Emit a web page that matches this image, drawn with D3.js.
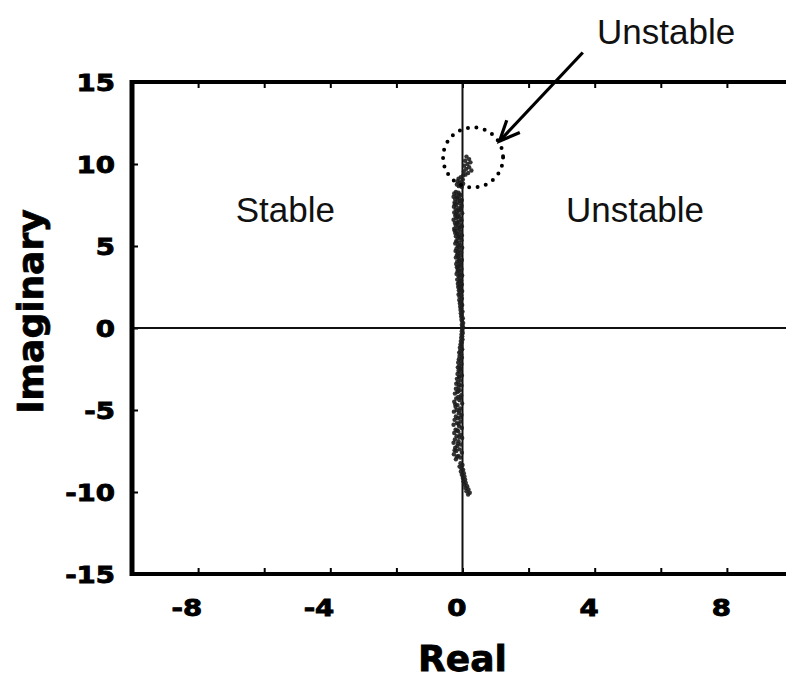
<!DOCTYPE html>
<html>
<head>
<meta charset="utf-8">
<script src="https://cdn.jsdelivr.net/npm/d3@7/dist/d3.min.js"></script>
<style>
  html, body { margin: 0; padding: 0; background: #fff; }
  svg { display: block; }
</style>
</head>
<body>
<svg id="chart" width="786" height="693"></svg>
<script>
// Root-locus style scatter of closed-loop poles in the complex plane.

// Axis ticks
const xTicks = [-8, -6, -4, -2, 0, 2, 4, 6, 8];
const xTickLabels = [-8, -4, 0, 4, 8];
const yTicks = [-10, -5, 0, 5, 10];
const yTickLabels = [15, 10, 5, 0, -5, -10, -15];

// Poles near the top of the locus, crossing into the right half-plane
const polesTop = [
  [0.12,10.45],[0.20,10.3],[0.08,10.2],[0.24,10.1],[0.15,10.0],[0.05,9.9],[0.20,9.8],
  [0.11,9.7],[0.27,9.6],[0.04,9.55],[0.17,9.45],[0.09,9.35],[0.02,9.3],
  [-0.05,9.2],[-0.12,9.1],[0.01,9.05],[-0.15,8.95],[-0.04,8.9],[-0.09,8.85],
  [0.02,8.8],[-0.17,8.75],[-0.06,8.7],[-0.11,8.65],[-0.02,8.6]
];

// Poles along the upper branch, left of the imaginary axis
const polesUpper = [
  [-0.20,8.3],[-0.12,8.25],[-0.25,8.2],[-0.09,8.15],[-0.05,8.1],[-0.18,8.05],[-0.27,8.0],
  [-0.16,7.95],[-0.10,7.9],[-0.22,7.85],[-0.02,7.8],[-0.07,7.75],[-0.15,7.7],[-0.24,7.65],
  [-0.08,7.6],[-0.23,7.55],[-0.19,7.5],[-0.03,7.45],[-0.26,7.4],[-0.04,7.35],[-0.12,7.3],
  [-0.21,7.25],[-0.06,7.2],[-0.11,7.15],[-0.17,7.1],[-0.25,7.05],[-0.01,7.0],[-0.20,6.95],
  [-0.13,6.9],[-0.22,6.85],[-0.09,6.8],[-0.14,6.75],[-0.19,6.7],[-0.04,6.65],[-0.27,6.6],
  [-0.03,6.55],[-0.11,6.5],[-0.16,6.45],[-0.23,6.4],[-0.17,6.35],[-0.07,6.3],[-0.20,6.25],
  [-0.02,6.2],[-0.08,6.15],[-0.14,6.1],[-0.25,6.05],[-0.09,6.0],[-0.24,5.95],[-0.18,5.9],
  [-0.05,5.85],[-0.22,5.8],[-0.16,5.75],[-0.12,5.7],[-0.02,5.65],[-0.20,5.6],[-0.11,5.55],
  [-0.08,5.5],[-0.15,5.45],[-0.03,5.35],[-0.19,5.3],[-0.17,5.25],[-0.10,5.2],[-0.22,5.15],
  [-0.06,5.05],[-0.14,5.0],[-0.11,4.95],[-0.01,4.9],[-0.18,4.85],[-0.09,4.75],[-0.21,4.7],
  [-0.15,4.65],[-0.04,4.6],[-0.13,4.55],[-0.17,4.45],[-0.07,4.4],[-0.13,4.35],[-0.20,4.3],
  [-0.11,4.2],[-0.02,4.15],[-0.10,4.1],[-0.16,4.05],[-0.08,4.0],[-0.19,3.9],[-0.05,3.85],
  [-0.09,3.8],[-0.13,3.75],[-0.17,3.7],[-0.03,3.6],[-0.14,3.55],[-0.10,3.5],[-0.15,3.45],
  [-0.06,3.35],[-0.18,3.3],[-0.08,3.25],[-0.01,3.2],[-0.12,3.15],[-0.08,3.05],[-0.16,2.95],
  [-0.04,2.9],[-0.07,2.85],[-0.11,2.8],[-0.14,2.7],[-0.02,2.65],[-0.06,2.6],[-0.09,2.55],
  [-0.13,2.5],[-0.05,2.4],[-0.07,2.35],[-0.11,2.3],[-0.01,2.25],[-0.08,2.15],[-0.12,2.05],
  [-0.04,2.0],[-0.09,1.9],[-0.02,1.8],[-0.10,1.7],[-0.06,1.6],[-0.08,1.5],[-0.01,1.4],
  [-0.07,1.3],[-0.04,1.2],[-0.06,1.1],[0.00,1.0],[-0.05,0.9],[-0.02,0.8],[-0.04,0.7],
  [0.01,0.6],[-0.03,0.5],[-0.01,0.4],[0.02,0.3],[-0.02,0.2],[0.01,0.1],[-0.01,0.0]
];

// Poles along the lower branch
const polesLower = [
  [0.00,-0.1],[-0.02,-0.2],[0.01,-0.3],[-0.03,-0.4],[-0.01,-0.5],[-0.04,-0.6],[0.00,-0.7],
  [-0.05,-0.8],[-0.02,-0.9],[-0.06,-1.0],[-0.03,-1.1],[-0.08,-1.2],[-0.01,-1.3],[-0.07,-1.4],
  [-0.10,-1.5],[-0.04,-1.6],[-0.09,-1.7],[-0.02,-1.8],[-0.11,-1.9],[-0.06,-2.0],[-0.13,-2.1],
  [-0.03,-2.2],[-0.10,-2.3],[-0.14,-2.4],[-0.07,-2.45],[-0.05,-2.5],[-0.12,-2.6],[-0.08,-2.7],
  [-0.15,-2.8],[-0.02,-2.9],[-0.09,-2.95],[-0.11,-3.0],[-0.17,-3.1],[-0.06,-3.2],[-0.14,-3.3],
  [-0.19,-3.4],[-0.10,-3.45],[-0.03,-3.5],[-0.12,-3.6],[-0.20,-3.7],[-0.08,-3.8],[-0.13,-3.85],
  [-0.16,-3.9],[-0.23,-4.0],[-0.04,-4.1],[-0.13,-4.2],[-0.06,-4.25],[-0.19,-4.3],[-0.09,-4.4],
  [-0.25,-4.5],[-0.01,-4.6],[-0.22,-4.65],[-0.15,-4.7],[-0.21,-4.8],[-0.07,-4.9],[-0.18,-5.0],
  [-0.09,-5.05],[-0.26,-5.1],[-0.11,-5.2],[-0.03,-5.3],[-0.20,-5.4],[-0.07,-5.45],[-0.14,-5.5],
  [-0.24,-5.6],[-0.06,-5.7],[-0.17,-5.8],[-0.12,-5.85],[-0.27,-5.9],[-0.10,-6.0],[-0.02,-6.1],
  [-0.21,-6.2],[-0.16,-6.25],[-0.13,-6.3],[-0.25,-6.4],[-0.07,-6.5],[-0.18,-6.6],[-0.10,-6.65],
  [-0.01,-6.7],[-0.23,-6.8],[-0.12,-6.9],[-0.27,-7.0],[-0.14,-7.05],[-0.05,-7.1],[-0.16,-7.2],
  [-0.22,-7.3],[-0.09,-7.4],[-0.24,-7.45],[-0.19,-7.5],[-0.02,-7.6],[-0.26,-7.7],[-0.13,-7.8],
  [-0.17,-7.85],[-0.07,-7.9],[-0.20,-8.0]
];

// Tail of the lower branch drifting back toward the axis
const polesTail = [
  [-0.06,-8.25],[0.00,-8.35],[-0.09,-8.45],[-0.03,-8.55],[0.02,-8.65],[-0.05,-8.75],
  [0.04,-8.85],[-0.02,-8.95],[0.06,-9.05],[0.01,-9.15],[0.08,-9.25],[0.03,-9.35],
  [0.10,-9.45],[0.05,-9.55],[0.14,-9.65],[0.09,-9.75],[0.18,-9.85],[0.12,-9.95],
  [0.22,-10.05],[0.17,-10.15]
];

// Region annotations (data coordinates)
const regionLabels = [
  { text: "Stable", re: -6.86, im: 6.46 },
  { text: "Unstable", re: 3.13, im: 6.46 },
  { text: "Unstable", re: 4.07, im: 17.3 }
];
const highlight = { re: 0.32, im: 10.4 };
const arrowFrom = { re: 3.64, im: 16.8 };
const arrowTo = { re: 1.12, im: 11.4 };

const svg = d3.select("#chart");
const x = d3.scaleLinear().domain([-10, 10]).range([132, 793]);
const y = d3.scaleLinear().domain([-15, 15]).range([574, 82]);

const tickFont = "'DejaVu Sans', Verdana, sans-serif";

// Tick marks (inward) on all four sides
const bottomAxis = d3.axisBottom(x).tickValues(xTicks).tickSizeInner(-6).tickSizeOuter(0).tickFormat("");
const topAxis = d3.axisTop(x).tickValues(xTicks).tickSizeInner(-6).tickSizeOuter(0).tickFormat("");
const leftAxis = d3.axisLeft(y).tickValues(yTicks).tickSizeInner(-6).tickSizeOuter(0).tickFormat("");
const rightAxis = d3.axisRight(y).tickValues(yTicks).tickSizeInner(-6).tickSizeOuter(0).tickFormat("");

function styleAxis(g) {
  g.select(".domain").remove();
  g.selectAll(".tick line").attr("stroke", "#000").attr("stroke-width", 2);
}
svg.append("g").attr("transform", `translate(0,${y(-15)})`).call(bottomAxis).call(styleAxis);
svg.append("g").attr("transform", `translate(0,${y(15)})`).call(topAxis).call(styleAxis);
svg.append("g").attr("transform", `translate(${x(-10)},0)`).call(leftAxis).call(styleAxis);
svg.append("g").attr("transform", `translate(${x(10)},0)`).call(rightAxis).call(styleAxis);

// Real and imaginary axes through the origin
svg.append("line")
  .attr("x1", x(-10)).attr("x2", x(10)).attr("y1", y(0)).attr("y2", y(0))
  .attr("stroke", "#111").attr("stroke-width", 2);
svg.append("line")
  .attr("x1", x(0)).attr("x2", x(0)).attr("y1", y(15)).attr("y2", y(-15))
  .attr("stroke", "#111").attr("stroke-width", 2);

// Frame
svg.append("line").attr("x1", x(-10) - 2).attr("x2", x(10)).attr("y1", y(15)).attr("y2", y(15))
  .attr("stroke", "#000").attr("stroke-width", 4);
svg.append("line").attr("x1", x(-10) - 2).attr("x2", x(10)).attr("y1", y(-15)).attr("y2", y(-15))
  .attr("stroke", "#000").attr("stroke-width", 4);
svg.append("line").attr("x1", x(-10)).attr("x2", x(-10)).attr("y1", y(15) - 2).attr("y2", y(-15) + 2)
  .attr("stroke", "#000").attr("stroke-width", 5);
svg.append("line").attr("x1", x(10)).attr("x2", x(10)).attr("y1", y(15) - 2).attr("y2", y(-15) + 2)
  .attr("stroke", "#000").attr("stroke-width", 4);

// Poles
const poles = [].concat(polesTop, polesUpper, polesLower, polesTail);
svg.append("g").selectAll("circle")
  .data(poles)
  .join("circle")
  .attr("cx", d => x(d[0]))
  .attr("cy", d => y(d[1]))
  .attr("r", 2.2)
  .attr("fill", "#1e1e1e")
  .attr("fill-opacity", 0.9);

// Tick labels (heavy, slightly widened numerals)
svg.append("g").selectAll("text")
  .data(xTickLabels)
  .join("text")
  .attr("transform", d => `translate(${x(d) + 4},616) scale(1.2,1)`)
  .attr("text-anchor", "end")
  .attr("font-family", tickFont)
  .attr("font-weight", "bold")
  .attr("font-size", 23)
  .attr("fill", "#000")
  .attr("stroke", "#000")
  .attr("stroke-width", 0.9)
  .text(d => d);

svg.append("g").selectAll("text")
  .data(yTickLabels)
  .join("text")
  .attr("transform", d => `translate(115,${y(d) + 9}) scale(1.2,1)`)
  .attr("text-anchor", "end")
  .attr("font-family", tickFont)
  .attr("font-weight", "bold")
  .attr("font-size", 23)
  .attr("fill", "#000")
  .attr("stroke", "#000")
  .attr("stroke-width", 0.9)
  .text(d => d);

// Axis titles
svg.append("text")
  .attr("x", x(0)).attr("y", 671)
  .attr("text-anchor", "middle")
  .attr("font-family", tickFont)
  .attr("font-weight", "bold")
  .attr("font-size", 36)
  .attr("stroke", "#000")
  .attr("stroke-width", 0.8)
  .text("Real");
svg.append("text")
  .attr("transform", `translate(43,${y(1)}) rotate(-90)`)
  .attr("text-anchor", "middle")
  .attr("font-family", tickFont)
  .attr("font-weight", "bold")
  .attr("font-size", 36)
  .attr("stroke", "#000")
  .attr("stroke-width", 0.8)
  .text("Imaginary");

// Region labels
svg.append("g").selectAll("text")
  .data(regionLabels)
  .join("text")
  .attr("x", d => x(d.re))
  .attr("y", d => y(d.im))
  .attr("font-family", "'Liberation Sans', Arial, sans-serif")
  .attr("font-size", 35)
  .attr("fill", "#111")
  .text(d => d.text);

// Dotted circle around the right-half-plane crossing
svg.append("circle")
  .attr("cx", x(highlight.re)).attr("cy", y(highlight.im))
  .attr("r", 30)
  .attr("fill", "none")
  .attr("stroke", "#000")
  .attr("stroke-width", 4)
  .attr("stroke-linecap", "round")
  .attr("stroke-dasharray", "0 8.5");

// Arrow with an open head
const ax1 = x(arrowFrom.re), ay1 = y(arrowFrom.im);
const ax2 = x(arrowTo.re), ay2 = y(arrowTo.im);
const ang = Math.atan2(ay2 - ay1, ax2 - ax1);
const headLen = 22, headSpread = 0.42;
svg.append("line")
  .attr("x1", ax1).attr("y1", ay1).attr("x2", ax2).attr("y2", ay2)
  .attr("stroke", "#000").attr("stroke-width", 3.2);
svg.append("path")
  .attr("d", d3.line()([
    [ax2 - headLen * Math.cos(ang - headSpread), ay2 - headLen * Math.sin(ang - headSpread)],
    [ax2, ay2],
    [ax2 - headLen * Math.cos(ang + headSpread), ay2 - headLen * Math.sin(ang + headSpread)]
  ]))
  .attr("fill", "none")
  .attr("stroke", "#000")
  .attr("stroke-width", 3.2)
  .attr("stroke-linejoin", "miter");
</script>
</body>
</html>
